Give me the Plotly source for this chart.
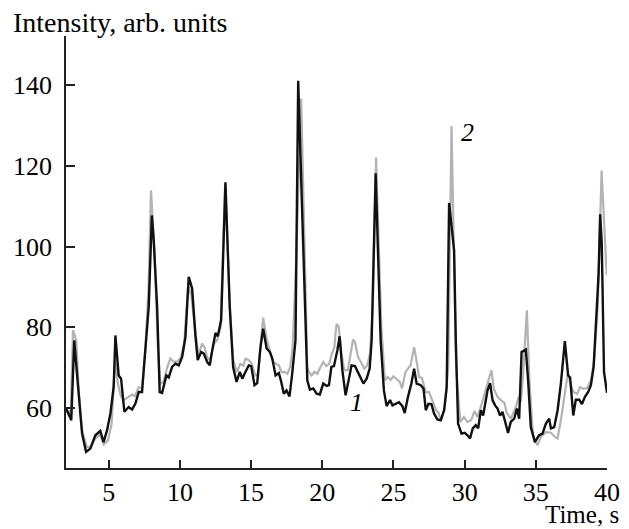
import plotly.graph_objects as go

# Series 1 (black)
t1 = [2.00, 2.10, 2.20, 2.37, 2.58, 2.77, 2.96, 3.13, 3.41, 3.71, 4.06, 4.41, 4.64, 4.88, 5.12, 5.35,
      5.47, 5.70, 5.87, 6.10, 6.40, 6.64, 6.87, 7.11, 7.34, 7.58, 7.81, 8.03, 8.16, 8.40, 8.58, 8.75,
      9.05, 9.22, 9.45, 9.69, 9.92, 10.16, 10.39, 10.62, 10.86, 11.09, 11.25, 11.49, 11.68, 11.92, 12.10,
      12.27, 12.50, 12.66, 12.90, 13.20, 13.50, 13.74, 13.98, 14.21, 14.38, 14.61, 14.84, 15.01, 15.24,
      15.43, 15.66, 15.85, 16.09, 16.32, 16.49, 16.72, 16.95, 17.12, 17.30, 17.49, 17.70, 17.89, 18.12,
      18.31, 18.95, 19.13, 19.37, 19.60, 19.83, 20.07, 20.31, 20.47, 20.64, 20.82, 21.06, 21.22, 21.41,
      21.64, 21.87, 22.06, 22.30, 22.51, 22.70, 22.89, 23.12, 23.33, 23.47, 23.75, 24.10, 24.33, 24.52,
      24.76, 24.93, 25.16, 25.39, 25.63, 25.79, 26.02, 26.26, 26.45, 26.63, 26.92, 27.11, 27.27, 27.46,
      27.67, 27.85, 28.09, 28.32, 28.56, 28.74, 28.91, 29.26, 29.38, 29.54, 29.78, 30.01, 30.20, 30.38,
      30.57, 30.78, 30.95, 31.14, 31.30, 31.49, 31.61, 31.79, 31.96, 32.14, 32.31, 32.49, 32.66, 32.82,
      33.05, 33.24, 33.48, 33.67, 33.83, 34.00, 34.30, 34.46, 34.65, 34.84, 34.93, 35.23, 35.47, 35.71,
      35.94, 36.06, 36.29, 36.53, 36.76, 37.04, 37.27, 37.41, 37.63, 37.81, 38.05, 38.24, 38.45, 38.68,
      38.87, 39.06, 39.22, 39.41, 39.52, 39.63, 39.79, 40.00]
y1 = [60.0, 59.0, 58.5, 57.0, 76.8, 68.6, 60.3, 53.7, 49.2, 50.0, 53.3, 54.4, 51.6, 54.5, 58.7, 65.3,
      78.0, 68.1, 67.3, 59.1, 60.3, 59.7, 61.1, 64.0, 64.0, 74.3, 85.1, 107.7, 101.6, 85.1, 64.0, 63.8,
      68.1, 67.6, 70.2, 71.0, 70.6, 72.7, 77.6, 92.5, 89.6, 78.0, 71.9, 73.9, 73.5, 71.4, 70.6,
      74.3, 78.6, 77.8, 81.8, 115.9, 85.1, 70.2, 66.5, 69.0, 67.3, 69.0, 70.6, 70.4, 65.7,
      66.2, 75.1, 79.7, 74.8, 73.9, 72.3, 68.1, 68.7, 66.5, 63.6, 64.4, 62.9, 68.6, 76.8,
      141.0, 66.9, 64.6, 64.9, 63.6, 63.4, 66.1, 65.5, 65.7, 70.2, 70.4, 74.3, 77.8, 69.4,
      63.2, 67.3, 70.6, 70.4, 69.0, 67.7, 66.1, 67.3, 69.8, 76.8, 118.1, 76.8, 64.4, 60.5,
      62.0, 60.7, 61.1, 61.5, 60.5, 58.8, 62.8, 66.1, 69.8, 66.1, 65.7, 64.9, 59.5, 61.1,
      61.0, 58.7, 57.2, 57.0, 59.5, 65.2, 110.8, 99.1, 76.8, 56.2, 53.7, 53.9, 53.3, 52.5,
      55.0, 55.8, 55.0, 59.5, 58.2, 62.0, 64.4, 66.2, 62.0, 60.7, 59.9, 58.2, 59.1, 57.0,
      53.9, 56.6, 57.4, 59.9, 57.4, 73.9, 74.5, 66.9, 55.3, 52.9, 51.6, 53.3, 53.7, 56.2,
      57.4, 55.0, 55.3, 59.5, 66.1, 76.6, 68.1, 67.6, 58.2, 62.1, 62.1, 61.0, 62.8, 64.0,
      65.7, 70.2, 80.1, 93.3, 108.0, 101.0, 69.0, 63.8]

# Series 2 (gray)
t2 = [2.00, 2.20, 2.35, 2.49, 2.72, 2.90, 3.10, 3.45, 3.75, 4.05, 4.40, 4.65, 4.95, 5.20, 5.45, 5.65,
      5.85, 6.05, 6.25, 6.45, 6.65, 6.85, 7.10, 7.34, 7.58, 7.80, 7.97, 8.20, 8.45, 8.62, 8.85, 9.10,
      9.33, 9.55, 9.80, 10.05, 10.30, 10.58, 10.80, 11.05, 11.30, 11.56, 11.75, 11.95, 12.15, 12.40,
      12.62, 12.85, 13.18, 13.50, 13.74, 14.00, 14.25, 14.45, 14.61, 14.84, 15.05, 15.30, 15.50, 15.70,
      15.85, 16.10, 16.35, 16.55, 16.75, 16.95, 17.15, 17.35, 17.55, 17.75, 17.92, 18.15, 18.52, 18.95,
      19.06, 19.25, 19.45, 19.65, 19.88, 20.07, 20.28, 20.50, 20.64, 20.85, 21.00, 21.15, 21.35, 21.55,
      21.80, 22.16, 22.30, 22.51, 22.75, 22.95, 23.15, 23.35, 23.55, 23.78, 24.15, 24.40, 24.60, 24.80,
      25.00, 25.20, 25.45, 25.60, 25.85, 26.20, 26.45, 26.60, 26.80, 27.00, 27.27, 27.50, 27.70, 28.00,
      28.15, 28.35, 28.60, 28.85, 29.08, 29.40, 29.70, 29.95, 30.20, 30.45, 30.69, 30.90, 31.20, 31.55,
      31.88, 32.05, 32.31, 32.55, 32.80, 32.95, 33.24, 33.60, 33.80, 33.95, 34.10, 34.37, 34.55, 34.80,
      35.12, 35.35, 35.71, 36.05, 36.34, 36.53, 36.76, 37.00, 37.25, 37.45, 37.65, 37.90, 38.10, 38.35,
      38.60, 38.87, 39.10, 39.35, 39.62, 39.98]
y2 = [59.5, 58.0, 60.0, 79.3, 76.8, 64.0, 55.0, 50.4, 50.5, 52.5, 53.5, 51.0, 52.0, 56.0, 72.0, 66.0,
      63.0, 62.0, 62.5, 63.0, 63.4, 63.0, 65.2, 65.0, 75.0, 90.0, 113.9, 100.0, 75.0, 66.0, 66.5, 70.0,
      72.3, 71.5, 71.5, 72.5, 76.0, 90.0, 88.0, 80.0, 73.0, 76.0, 75.0, 72.0, 72.5, 76.0,
      76.8, 80.0, 115.5, 86.0, 72.0, 69.0, 71.0, 70.5, 72.3, 71.9, 71.0, 68.1, 68.5, 77.0,
      82.4, 77.0, 74.0, 71.5, 71.0, 70.6, 68.9, 69.0, 68.5, 70.2, 75.0, 95.0, 136.6, 70.0,
      69.0, 68.1, 69.0, 68.5, 70.2, 71.4, 70.4, 71.0, 73.1, 75.1, 80.8, 80.3, 73.5, 69.4,
      69.4, 77.0, 76.3, 72.7, 71.2, 69.8, 70.5, 73.5, 85.0, 122.0, 80.0, 66.9, 67.7, 67.0,
      67.9, 67.3, 66.5, 64.9, 69.0, 70.6, 75.1, 72.2, 67.7, 67.5, 64.0, 64.0, 62.0, 59.5,
      59.0, 57.0, 60.0, 70.0, 129.8, 70.0, 56.6, 57.8, 56.6, 57.0, 59.3, 57.8, 61.1, 65.2,
      69.4, 64.8, 62.8, 62.0, 61.3, 58.9, 57.4, 60.3, 62.8, 61.5, 68.0, 84.2, 66.9, 53.0,
      50.8, 52.9, 54.1, 54.0, 52.9, 52.5, 57.0, 62.8, 68.6, 65.7, 64.0, 63.5, 65.2, 64.8,
      65.0, 66.9, 71.9, 85.1, 118.8, 92.9]

x_ticks = [5, 10, 15, 20, 25, 30, 35, 40]
y_ticks = [60, 80, 100, 120, 140]

FONT = "Liberation Serif, Times New Roman, serif"

fig = go.Figure()
fig.add_trace(go.Scatter(x=t2, y=y2, mode="lines", line=dict(color="#b3b3b3", width=2.2), showlegend=False))
fig.add_trace(go.Scatter(x=t1, y=y1, mode="lines", line=dict(color="#111111", width=2.4), showlegend=False))

# the page body has an 8px margin, so the figure is sized to fit the 629x529 window
fig.update_layout(
    width=621, height=521,
    margin=dict(l=58, r=22, t=28, b=61),
    paper_bgcolor="white", plot_bgcolor="white",
    font=dict(family=FONT, size=26, color="black"),
    xaxis=dict(range=[2, 40], tickvals=x_ticks, ticks="inside", ticklen=8, tickwidth=1.5,
               tickcolor="#222", showline=True, linecolor="#222", linewidth=1.5,
               showgrid=False, zeroline=False, ticklabelstandoff=0, automargin=False,
               tickfont=dict(family=FONT, size=26)),
    yaxis=dict(range=[45.2, 152.1], tickvals=y_ticks, ticks="inside", ticklen=9, tickwidth=1.5,
               tickcolor="#222", showline=True, linecolor="#222", linewidth=1.5,
               showgrid=False, zeroline=False, ticklabelstandoff=7, automargin=False,
               tickfont=dict(family=FONT, size=26)),
    annotations=[
        dict(text="Intensity, arb. units", xref="paper", yref="paper", x=-0.102, y=1.032,
             xanchor="left", yanchor="middle", showarrow=False, font=dict(family=FONT, size=28)),
        dict(text="Time, s", xref="paper", yref="paper", x=1.026, y=-0.107,
             xanchor="right", yanchor="middle", showarrow=False, font=dict(family=FONT, size=25)),
        dict(text="<i>1</i>", x=22.37, y=61.3, xref="x", yref="y", showarrow=False,
             font=dict(family=FONT, size=26)),
        dict(text="<i>2</i>", x=30.23, y=128.1, xref="x", yref="y", showarrow=False,
             font=dict(family=FONT, size=26)),
    ],
)

fig.write_html("out.html")
